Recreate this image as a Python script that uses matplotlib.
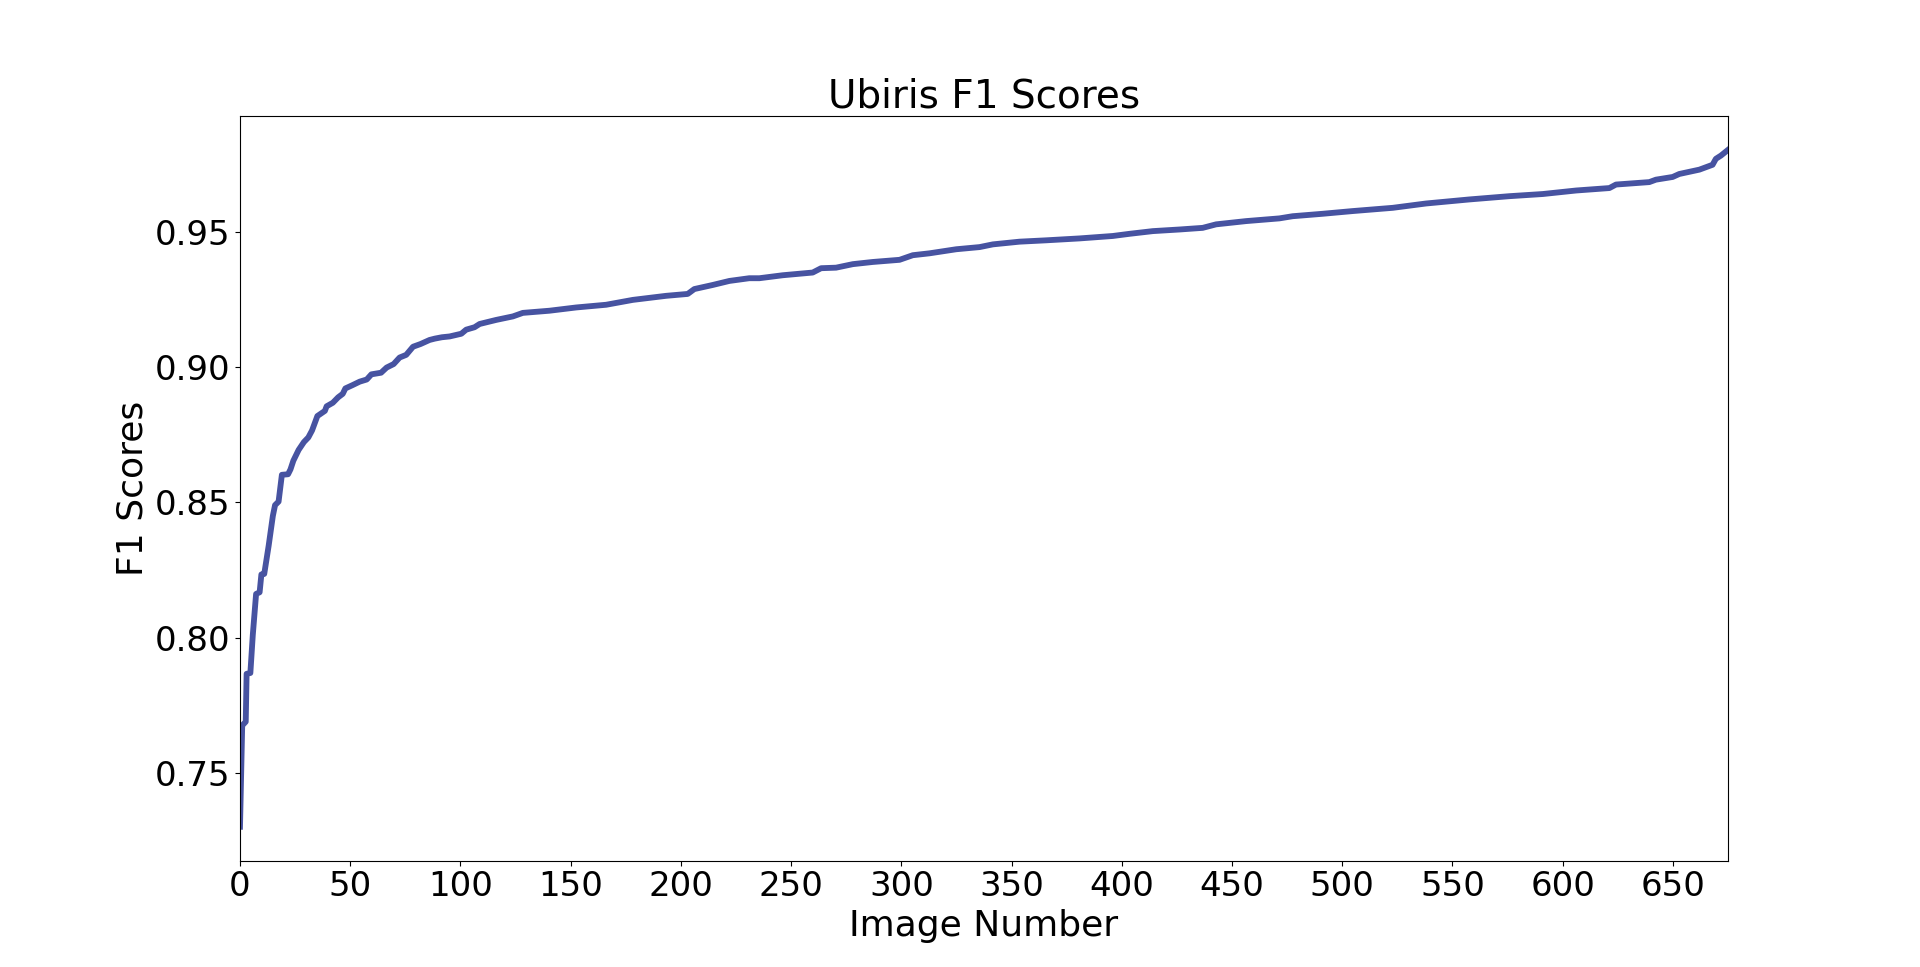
import matplotlib
matplotlib.use("Agg")
import matplotlib.pyplot as plt

# Image numbers (x) and sorted F1 scores (y)
image_numbers = [0, 1, 2.6, 3, 4.7, 5.8, 7.3, 8.9, 9.7, 11, 13, 14.9, 15.9, 17.5, 19,
                 21.8, 22.9, 24.2, 26.6, 29, 31, 32.7, 35.1, 38.5, 39.3, 42.1, 44.5,
                 46.6, 47.8, 51, 54.3, 57.5, 59.6, 64, 66.5, 69.7, 72.4, 75.4, 78.5,
                 81.9, 86.0, 88.4, 91.6, 95.1, 100.4, 102.6, 106.4, 108.7, 116.2,
                 123.8, 128.3, 140.4, 152.5, 166.1, 178.2, 193.3, 203.1, 206.1, 214.4,
                 222, 231, 235.6, 246.2, 259.8, 263.6, 270.4, 278, 287, 299.2, 305.2,
                 312.8, 324.9, 335.5, 341.5, 353.6, 365.7, 380.8, 395.9, 403.5, 414.1,
                 426.2, 436.7, 442.8, 456.4, 471.5, 477.5, 491.1, 504.7, 516.8, 522.9,
                 538, 557.7, 575.8, 591, 606.1, 621.2, 624.2, 639.3, 642.3, 649.9,
                 652.9, 662, 668, 669.5, 671.8, 675]
f1_scores = [0.7302, 0.7676, 0.7690, 0.7867, 0.7870, 0.8010, 0.8162, 0.8168, 0.8234,
             0.8236, 0.8340, 0.8450, 0.8490, 0.8503, 0.8602, 0.8604, 0.8622, 0.8654,
             0.8694, 0.8723, 0.8740, 0.8766, 0.8819, 0.8838, 0.8855, 0.8868, 0.8888,
             0.8901, 0.8921, 0.8933, 0.8946, 0.8954, 0.8973, 0.8979, 0.8998, 0.9011,
             0.9035, 0.9045, 0.9075, 0.9085, 0.9100, 0.9105, 0.9110, 0.9113, 0.9123,
             0.9138, 0.9147, 0.9159, 0.9174, 0.9187, 0.9200, 0.9208, 0.9220, 0.9230,
             0.9248, 0.9263, 0.9270, 0.9288, 0.9303, 0.9318, 0.9328, 0.9328, 0.9339,
             0.9349, 0.9365, 0.9367, 0.9380, 0.9388, 0.9396, 0.9413, 0.9420, 0.9435,
             0.9443, 0.9453, 0.9463, 0.9468, 0.9475, 0.9484, 0.9492, 0.9502, 0.9508,
             0.9514, 0.9527, 0.9539, 0.9549, 0.9557, 0.9566, 0.9576, 0.9584, 0.9588,
             0.9604, 0.9619, 0.9631, 0.9639, 0.9652, 0.9661, 0.9674, 0.9683, 0.9692,
             0.9702, 0.9713, 0.9729, 0.9747, 0.9769, 0.9781, 0.9802]

title = "Ubiris F1 Scores"
x_label = "Image Number"
y_label = "F1 Scores"

fig, ax = plt.subplots(figsize=(19.2, 9.67), dpi=100)
ax.plot(image_numbers, f1_scores, color="#4753a1", linewidth=4.2)
ax.set_xlim(0, 675)
ax.set_xticks(range(0, 651, 50))
ax.set_title(title, fontsize=28)
ax.set_xlabel(x_label, fontsize=26)
ax.set_ylabel(y_label, fontsize=26)
ax.tick_params(labelsize=24.5)
fig.savefig("out.png", dpi=100)
